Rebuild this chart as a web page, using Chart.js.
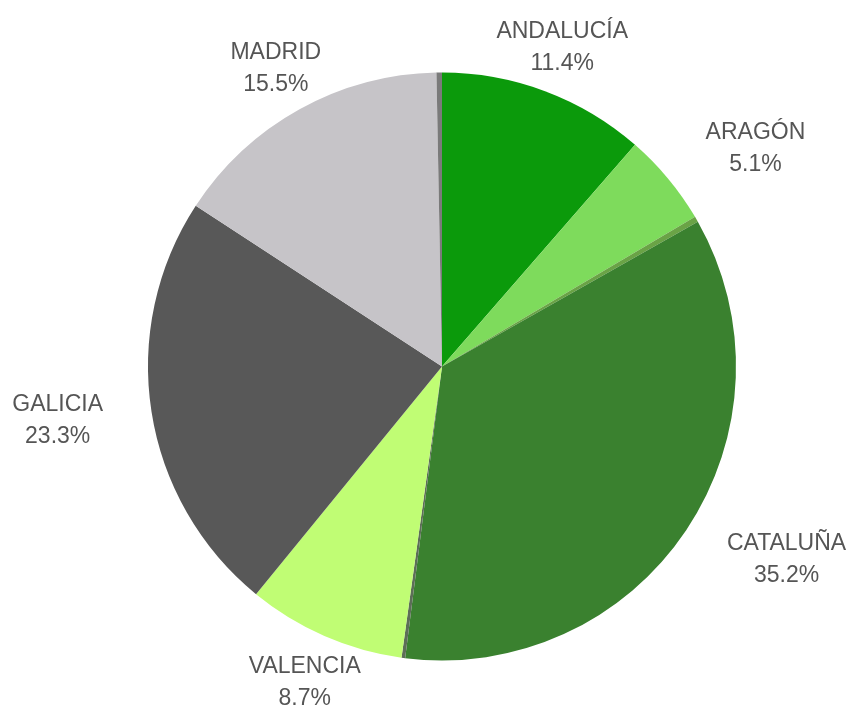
<!DOCTYPE html>
<html>
<head>
<meta charset="utf-8">
<script src="https://cdn.jsdelivr.net/npm/chart.js@4"></script>
<style>
html,body{margin:0;padding:0;background:#fff;}
#wrap{width:855px;height:707px;}
</style>
</head>
<body>
<div id="wrap"><canvas id="c" width="855" height="707"></canvas></div>
<script>
const categories = ["ANDALUCÍA", "ARAGÓN", "", "CATALUÑA", "", "VALENCIA", "GALICIA", "MADRID", ""];
const values = [11.4, 5.1, 0.3, 35.2, 0.2, 8.7, 23.3, 15.5, 0.3];
const valueLabels = ["11.4%", "5.1%", "", "35.2%", "", "8.7%", "23.3%", "15.5%", ""];
const colors = ["#0b9a0b", "#7edb5c", "#6aa346", "#3a812f", "#5d6e58", "#c0fd74", "#585858", "#c6c4c8", "#7a7a7a"];

const labelPlugin = {
  id: 'outLabels',
  afterDatasetsDraw(chart) {
    const ctx = chart.ctx;
    const meta = chart.getDatasetMeta(0);
    ctx.save();
    ctx.font = '23px "Liberation Sans", Arial, sans-serif';
    ctx.fillStyle = '#555555';
    ctx.textAlign = 'center';
    ctx.textBaseline = 'middle';
    meta.data.forEach((arc, i) => {
      if (!categories[i]) return;
      const p = arc.getProps(['x','y','startAngle','endAngle','outerRadius'], true);
      const mid = (p.startAngle + p.endAngle) / 2;
      const r = p.outerRadius + 49;
      const ax = p.x + Math.cos(mid) * r;
      const cy = p.y + Math.sin(mid) * r + 2;
      const c = Math.cos(mid);
      const w = Math.max(ctx.measureText(categories[i]).width, ctx.measureText(valueLabels[i]).width);
      let cx = ax;
      if (c > 0.55) cx = ax + w / 2;
      else if (c < -0.55) cx = ax - w / 2;
      ctx.fillText(categories[i], cx, cy - 16);
      ctx.fillText(valueLabels[i], cx, cy + 16);
    });
    ctx.restore();
  }
};

new Chart(document.getElementById('c'), {
  type: 'pie',
  data: {
    labels: categories,
    datasets: [{
      data: values,
      backgroundColor: colors,
      borderWidth: 0
    }]
  },
  options: {
    responsive: false,
    animation: false,
    layout: { padding: { left: 148, right: 119, top: 72, bottom: 46 } },
    plugins: { legend: { display: false }, tooltip: { enabled: false } }
  },
  plugins: [labelPlugin]
});
</script>
</body>
</html>
